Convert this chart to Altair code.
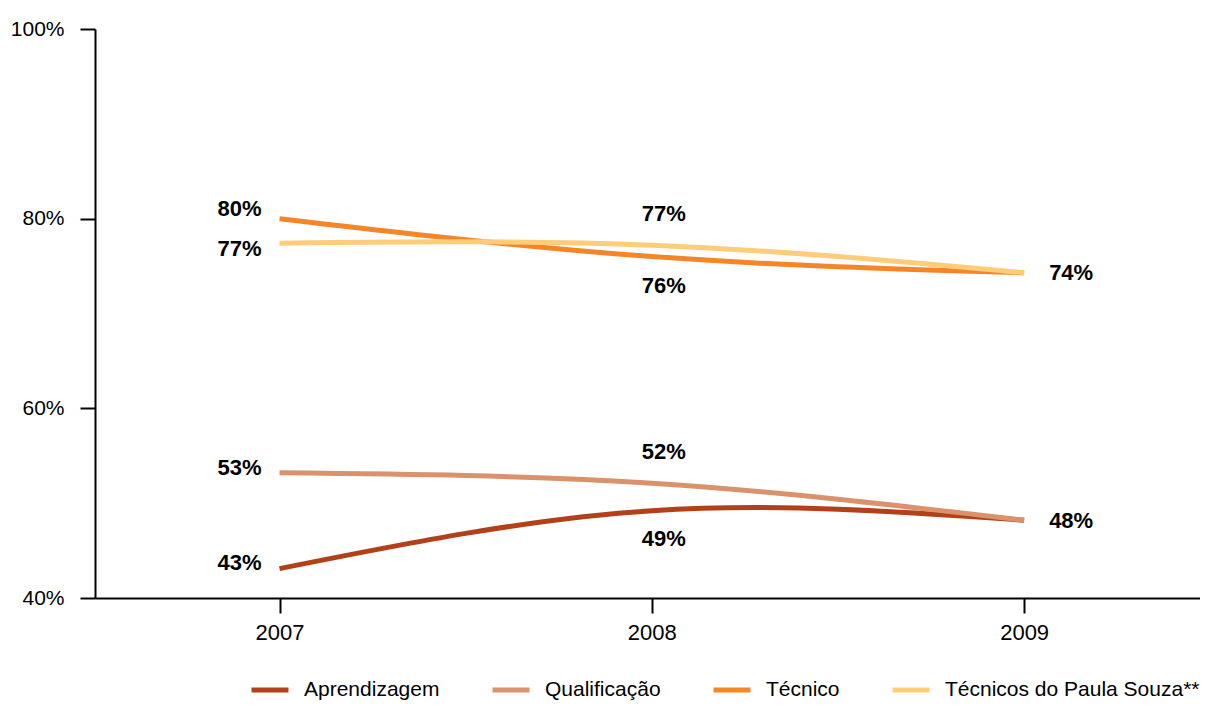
import altair as alt
import pandas as pd

years = [2007, 2008, 2009]
series_names = ["Aprendizagem", "Qualificação", "Técnico", "Técnicos do Paula Souza**"]
aprendizagem = [43.1, 49.2, 48.2]
qualificacao = [53.2, 52.1, 48.2]
tecnico = [80.0, 76.0, 74.3]
paula_souza = [77.4, 77.2, 74.3]
colors = ["#B2411A", "#DA926C", "#F58628", "#FFCC7A"]

all_values = [aprendizagem, qualificacao, tecnico, paula_souza]
rows = []
for name, vals in zip(series_names, all_values):
    for yr, v in zip(years, vals):
        rows.append({"serie": name, "ano": str(yr), "valor": v, "rotulo": f"{round(v)}%"})
df = pd.DataFrame(rows)
year_labels = [str(y) for y in years]

FONT = "Liberation Sans, Arial, sans-serif"

base = alt.Chart(df).encode(
    x=alt.X("ano:O",
            scale=alt.Scale(type="point", domain=year_labels, padding=0.484, align=0.512),
            axis=alt.Axis(title=None, labelAngle=0, labelFontSize=22, labelPadding=9)),
    y=alt.Y("valor:Q",
            scale=alt.Scale(domain=[40, 100], nice=False, zero=False),
            axis=alt.Axis(values=[40, 60, 80, 100], labelExpr="datum.value + '%'",
                          title=None, labelPadding=16, labelFontSize=21)),
)

lines = base.mark_line(strokeWidth=5, interpolate="natural").encode(
    color=alt.Color("serie:N",
                    scale=alt.Scale(domain=series_names, range=colors),
                    sort=series_names,
                    legend=alt.Legend(title=None, orient="none", direction="horizontal",
                                      legendX=154, legendY=640,
                                      symbolType="stroke", symbolSize=1369,
                                      symbolStrokeWidth=5, labelOffset=13,
                                      columnPadding=42, padding=0, labelLimit=500,
                                      labelFont=FONT, labelFontSize=21,
                                      labelColor="black")),
    order=alt.Order("ano:O"),
)

# label placement: (serie, ano, align, dx, dy)
placements = [
    ("Técnico", "2007", "right", -18, -10),
    ("Técnicos do Paula Souza**", "2007", "right", -18, 6),
    ("Qualificação", "2007", "right", -18, -5),
    ("Aprendizagem", "2007", "right", -18, -6),
    ("Técnicos do Paula Souza**", "2008", "center", 12, -31),
    ("Técnico", "2008", "center", 12, 29),
    ("Qualificação", "2008", "center", 12, -31),
    ("Aprendizagem", "2008", "center", 12, 28),
    ("Técnico", "2009", "left", 25, 0),
    ("Aprendizagem", "2009", "left", 25, 1),
]

layers = [lines]
for serie, ano, align, dx, dy in placements:
    t = base.transform_filter(
        (alt.datum.serie == serie) & (alt.datum.ano == ano)
    ).mark_text(font=FONT, fontSize=22, fontWeight="bold", color="black",
                align=align, baseline="middle", dx=dx, dy=dy).encode(
        text="rotulo:N",
    )
    layers.append(t)

chart = alt.layer(*layers).properties(
    width=1105, height=569,
    background="white",
    autosize=alt.AutoSizeParams(type="none"),
    padding={"left": 87, "top": 21, "right": 0, "bottom": 105},
).configure_view(stroke=None).configure_axis(
    grid=False, domainColor="black", domainWidth=2,
    tickColor="black", tickWidth=2, tickSize=15,
    labelFont=FONT, labelColor="black",
)

chart.save("out.html", embed_options={"renderer": "svg", "actions": False})
